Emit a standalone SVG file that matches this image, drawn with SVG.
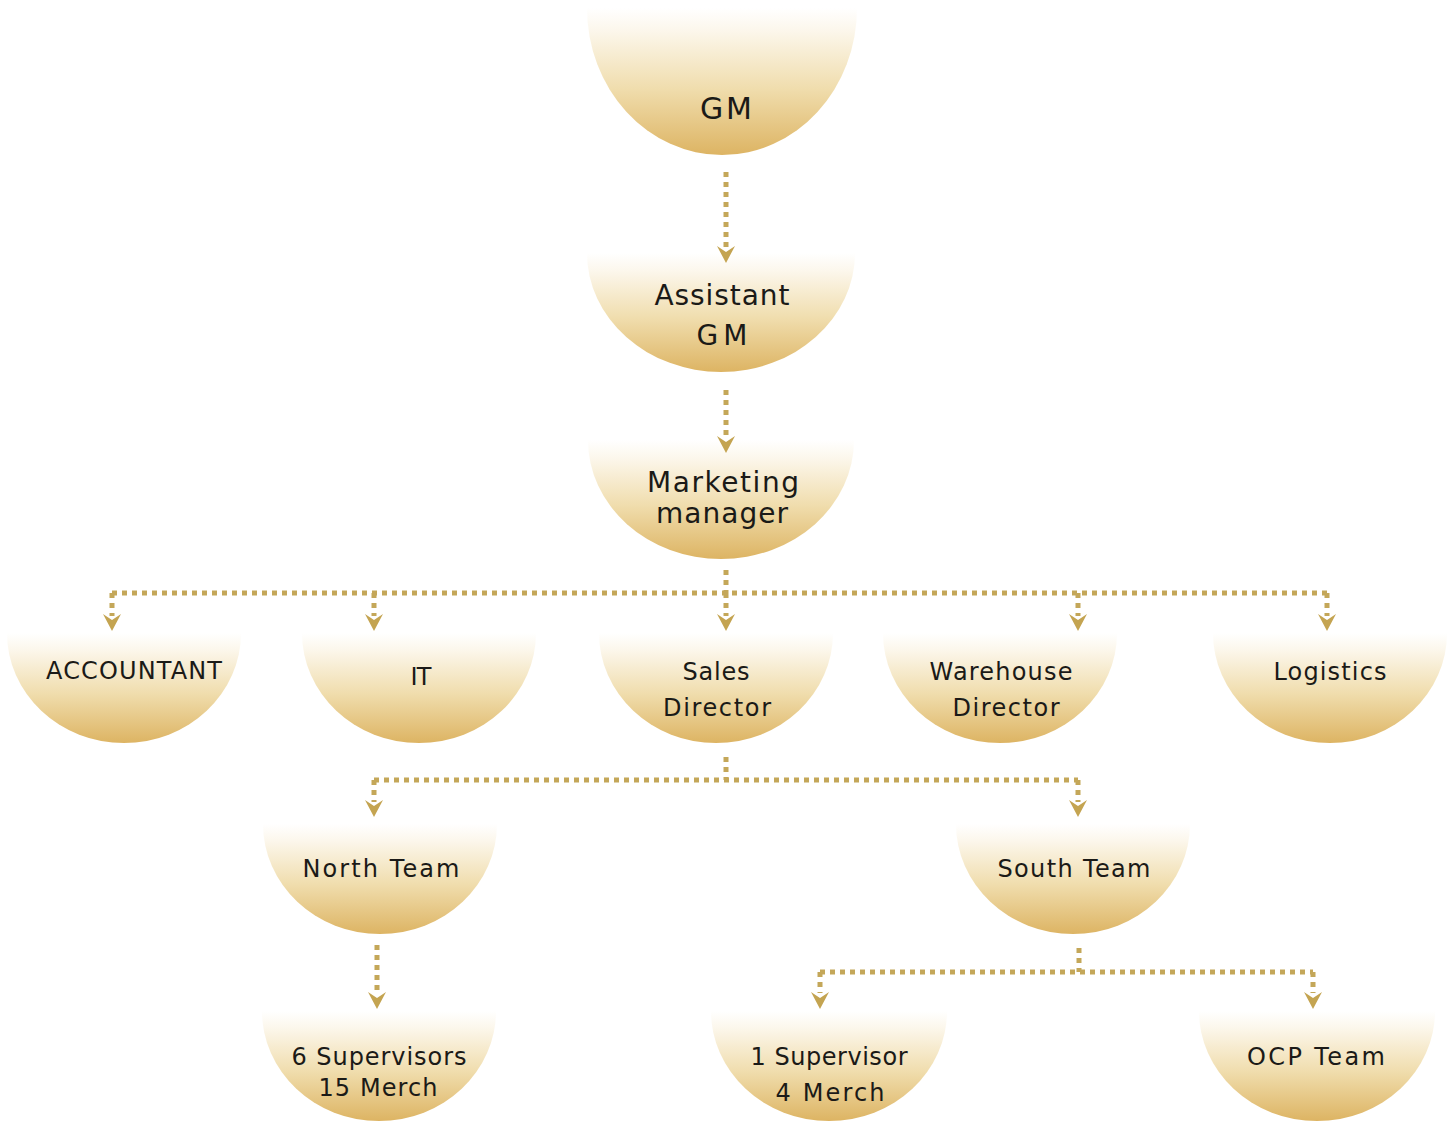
<svg xmlns="http://www.w3.org/2000/svg" width="1453" height="1123" viewBox="0 0 1453 1123">
<defs>
<linearGradient id="gold" x1="0" y1="0" x2="0" y2="1">
<stop offset="0" stop-color="#ffffff"/>
<stop offset="0.15" stop-color="#fcf7ec"/>
<stop offset="0.55" stop-color="#f0ddad"/>
<stop offset="1" stop-color="#ddb463"/>
</linearGradient>
</defs>
<style>
.n{fill:url(#gold);}
.t{font-family:"DejaVu Sans","Liberation Sans",sans-serif;font-size:24px;fill:#1b1a17;text-anchor:middle;}
.b{font-size:28px;}
.c{fill:none;stroke:#c4a759;stroke-width:5;stroke-dasharray:5 5;}
.a{fill:#c4a451;}
</style>
<rect width="1453" height="1123" fill="#ffffff"/>
<g id="gm"><path class="n" d="M587 8A135 147 0 0 0 857 8Z"/><text class="t" x="726" y="119" style="font-size:30px" textLength="52" lengthAdjust="spacing">GM</text></g>
<g id="assistant-gm"><path class="n" d="M587 253A134 119 0 0 0 855 253Z"/><text class="t b" x="722" y="305" textLength="135" lengthAdjust="spacing">Assistant</text><text class="t b" x="722" y="345" textLength="51" lengthAdjust="spacing">GM</text></g>
<g id="marketing-manager"><path class="n" d="M588 440A133 119 0 0 0 854 440Z"/><text class="t b" x="723" y="492" textLength="152" lengthAdjust="spacing">Marketing</text><text class="t b" x="722" y="523" textLength="132" lengthAdjust="spacing">manager</text></g>
<g id="accountant"><path class="n" d="M7 633A117 110 0 0 0 241 633Z"/><text class="t" x="134" y="679" textLength="176" lengthAdjust="spacing">ACCOUNTANT</text></g>
<g id="it"><path class="n" d="M302 633A117 110 0 0 0 536 633Z"/><text class="t" x="421" y="685" textLength="21" lengthAdjust="spacing">IT</text></g>
<g id="sales-director"><path class="n" d="M599 633A117 110 0 0 0 833 633Z"/><text class="t" x="716" y="680" textLength="67" lengthAdjust="spacing">Sales</text><text class="t" x="717" y="716" textLength="108" lengthAdjust="spacing">Director</text></g>
<g id="warehouse-director"><path class="n" d="M883 633A117 110 0 0 0 1117 633Z"/><text class="t" x="1001" y="680" textLength="143" lengthAdjust="spacing">Warehouse</text><text class="t" x="1006" y="716" textLength="107" lengthAdjust="spacing">Director</text></g>
<g id="logistics"><path class="n" d="M1213 633A117 110 0 0 0 1447 633Z"/><text class="t" x="1330" y="680" textLength="113" lengthAdjust="spacing">Logistics</text></g>
<g id="north-team"><path class="n" d="M263 824A117 110 0 0 0 497 824Z"/><text class="t" x="381" y="877" textLength="157" lengthAdjust="spacing">North Team</text></g>
<g id="south-team"><path class="n" d="M956 824A117 110 0 0 0 1190 824Z"/><text class="t" x="1074" y="877" textLength="153" lengthAdjust="spacing">South Team</text></g>
<g id="six-supervisors"><path class="n" d="M262 1011A117 110 0 0 0 496 1011Z"/><text class="t" x="379" y="1065" textLength="175" lengthAdjust="spacing">6 Supervisors</text><text class="t" x="378" y="1096" textLength="119" lengthAdjust="spacing">15 Merch</text></g>
<g id="one-supervisor"><path class="n" d="M711 1011A118 110 0 0 0 947 1011Z"/><text class="t" x="829" y="1065" textLength="157" lengthAdjust="spacing">1 Supervisor</text><text class="t" x="830" y="1101" textLength="109" lengthAdjust="spacing">4 Merch</text></g>
<g id="ocp-team"><path class="n" d="M1199 1011A118 110 0 0 0 1435 1011Z"/><text class="t" x="1316" y="1065" textLength="138" lengthAdjust="spacing">OCP Team</text></g>
<g id="connectors">
<path class="c" d="M726 172V248"/>
<path class="a" d="M717 246L726 252L735 246L726 263Z"/>
<path class="c" d="M726 390V438"/>
<path class="a" d="M717 436L726 442L735 436L726 453Z"/>
<path class="c" d="M726 570V593M112 593H1327M112 593V616M374 593V616M726 593V616M1078 593V616M1327 593V616"/>
<path class="a" d="M103 614L112 620L121 614L112 631Z"/>
<path class="a" d="M365 614L374 620L383 614L374 631Z"/>
<path class="a" d="M717 614L726 620L735 614L726 631Z"/>
<path class="a" d="M1069 614L1078 620L1087 614L1078 631Z"/>
<path class="a" d="M1318 614L1327 620L1336 614L1327 631Z"/>
<path class="c" d="M726 757V780M374 780H1078M374 780V802M1078 780V802"/>
<path class="a" d="M365 800L374 806L383 800L374 817Z"/>
<path class="a" d="M1069 800L1078 806L1087 800L1078 817Z"/>
<path class="c" d="M377 945V993"/>
<path class="a" d="M368 992L377 998L386 992L377 1009Z"/>
<path class="c" d="M1079 948V972M820 972H1313M820 972V993M1313 972V993"/>
<path class="a" d="M811 992L820 998L829 992L820 1009Z"/>
<path class="a" d="M1304 992L1313 998L1322 992L1313 1009Z"/>
</g>
</svg>
